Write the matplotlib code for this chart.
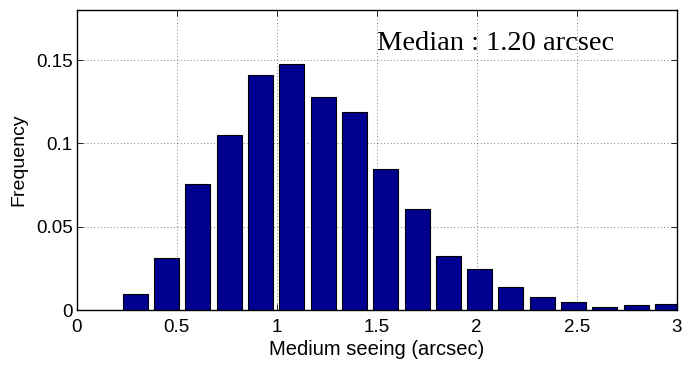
import matplotlib
matplotlib.use("Agg")
import matplotlib.pyplot as plt
import numpy as np

plt.rcParams['font.family'] = ['Liberation Sans', 'DejaVu Sans']

bin_centers = [0.293, 0.450, 0.606, 0.763, 0.919, 1.076, 1.232, 1.389, 1.545,
               1.702, 1.858, 2.015, 2.171, 2.328, 2.484, 2.641, 2.797, 2.954]
frequency = [0.0098, 0.031, 0.0754, 0.105, 0.141, 0.1474, 0.1276, 0.1188, 0.0846,
             0.0606, 0.0326, 0.0248, 0.0138, 0.0078, 0.0046, 0.0020, 0.0032, 0.0036]
xticks = [0, 0.5, 1, 1.5, 2, 2.5, 3]
xtick_labels = ['0', '0.5', '1', '1.5', '2', '2.5', '3']
yticks = [0, 0.05, 0.1, 0.15]
ytick_labels = ['0', '0.05', '0.1', '0.15']

fig = plt.figure(figsize=(6.82, 3.68), dpi=100)
ax = fig.add_axes([0.1125, 0.1576, 0.8797, 0.8152])

spacing = bin_centers[1] - bin_centers[0]
ax.bar(bin_centers, frequency, width=0.8 * spacing, color='#000090',
       edgecolor='black', linewidth=0.8, zorder=3)

ax.set_xlim(0, 3)
ax.set_ylim(0, 0.18)
ax.set_xticks(xticks)
ax.set_xticklabels(xtick_labels, fontsize=13.5)
ax.set_yticks(yticks)
ax.set_yticklabels(ytick_labels, fontsize=13.5)
ax.tick_params(direction='in', top=True, right=True, length=4, width=0.6)
ax.tick_params(axis='x', pad=6.5)
ax.tick_params(axis='y', pad=3)
ax.grid(True, linestyle=(0, (1, 3)), color='#555555', linewidth=0.6, zorder=0)
for s in ax.spines.values():
    s.set_linewidth(1.0)
    s.set_zorder(4)

ax.set_xlabel('Medium seeing (arcsec)', fontsize=14.5, labelpad=3)
ax.set_ylabel('Frequency', fontsize=14, labelpad=6)

ax.text(1.5, 0.156, 'Median : 1.20 arcsec', fontsize=20.5,
        family=['Liberation Serif', 'DejaVu Serif'], ha='left', va='baseline', zorder=5)

fig.savefig('out.png', dpi=100)
